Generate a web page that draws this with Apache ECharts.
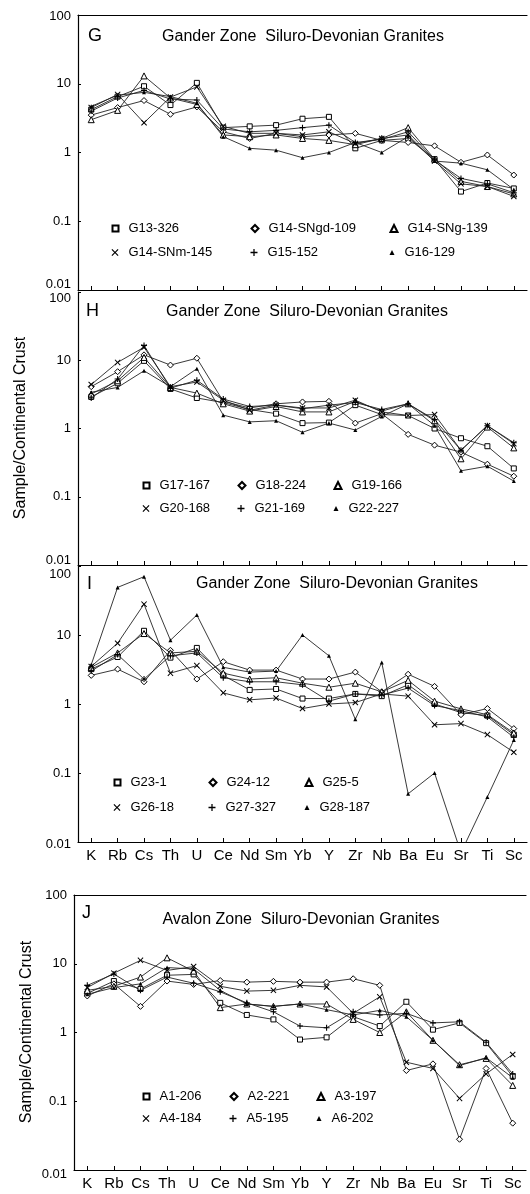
<!DOCTYPE html>
<html><head><meta charset="utf-8">
<script src="https://cdn.jsdelivr.net/npm/echarts@6/dist/echarts.min.js"></script>
<style>html,body{margin:0;padding:0;background:#fff}#c{width:530px;height:1194px}</style>
</head><body><div id="c"></div><script>
// ---------- DATA ----------
const elements = ['K','Rb','Cs','Th','U','Ce','Nd','Sm','Yb','Y','Zr','Nb','Ba','Eu','Sr','Ti','Sc'];
const yTickLabels = ['0.01','0.1','1','10','100'];

// Panel G
const gTitle = 'Gander Zone  Siluro-Devonian Granites';
const gNames = ['G13-326','G14-SNgd-109','G14-SNg-139','G14-SNm-145','G15-152','G16-129'];
const gG13_326     = [4.2, 6.5, 9.2, 4.9, 10.3, 2.3, 2.4, 2.5, 3.1, 3.3, 1.15, 1.5, 1.6, 0.8, 0.27, 0.36, 0.3];
const gG14_SNgd109 = [3.5, 4.5, 5.7, 3.6, 4.6, 2.0, 1.6, 1.9, 1.7, 1.8, 1.9, 1.5, 1.4, 1.25, 0.72, 0.92, 0.47];
const gG14_SNg139  = [3.0, 4.1, 13.0, 6.2, 5.0, 1.8, 1.7, 1.8, 1.6, 1.5, 1.3, 1.6, 2.3, 0.8, 0.38, 0.32, 0.25];
const gG14_SNm145  = [4.5, 7.0, 2.7, 6.4, 9.0, 2.4, 1.9, 1.9, 1.8, 2.0, 1.35, 1.6, 1.8, 0.75, 0.35, 0.32, 0.23];
const gG15_152     = [4.0, 6.2, 8.0, 6.0, 5.8, 2.2, 2.0, 2.1, 2.3, 2.5, 1.4, 1.55, 2.0, 0.78, 0.42, 0.35, 0.26];
const gG16_129     = [4.7, 6.8, 7.5, 6.5, 5.2, 1.7, 1.15, 1.08, 0.84, 1.0, 1.4, 1.0, 1.7, 0.75, 0.7, 0.56, 0.29];

// Panel H
const hTitle = 'Gander Zone  Siluro-Devonian Granites';
const hNames = ['G17-167','G18-224','G19-166','G20-168','G21-169','G22-227'];
const hG17_167 = [2.9, 4.6, 9.8, 3.8, 2.8, 2.4, 1.9, 1.65, 1.2, 1.22, 2.2, 1.6, 1.55, 1.0, 0.72, 0.55, 0.26];
const hG18_224 = [4.1, 6.8, 12.0, 8.5, 10.7, 2.5, 2.0, 2.3, 2.45, 2.5, 1.2, 1.65, 0.82, 0.57, 0.45, 0.3, 0.2];
const hG19_166 = [3.2, 5.0, 11.0, 4.0, 3.3, 2.3, 1.8, 2.1, 1.75, 1.75, 2.5, 1.8, 2.3, 1.3, 0.36, 1.05, 0.52];
const hG20_168 = [4.4, 9.3, 15.5, 4.1, 4.8, 2.6, 1.85, 2.2, 2.0, 2.0, 2.6, 1.75, 1.55, 1.6, 0.48, 1.1, 0.6];
const hG21_169 = [2.8, 5.3, 16.5, 3.9, 5.1, 2.7, 2.1, 2.2, 1.95, 2.2, 2.4, 1.9, 2.3, 1.35, 0.48, 1.1, 0.62];
const hG22_227 = [3.4, 4.0, 7.0, 4.1, 7.5, 1.57, 1.25, 1.3, 0.88, 1.2, 0.95, 1.5, 2.3, 1.1, 0.24, 0.28, 0.17];

// Panel I
const iTitle = 'Gander Zone  Siluro-Devonian Granites';
const iNames = ['G23-1','G24-12','G25-5','G26-18','G27-327','G28-187'];
const iG23_1   = [3.2, 4.8, 11.5, 4.7, 6.5, 2.6, 1.6, 1.65, 1.2, 1.2, 1.4, 1.3, 1.9, 1.0, 0.75, 0.68, 0.36];
const iG24_12  = [2.6, 3.2, 2.1, 6.0, 2.3, 4.1, 3.1, 3.1, 2.3, 2.3, 2.9, 1.5, 2.7, 1.8, 0.7, 0.86, 0.44];
const iG25_5   = [3.4, 5.5, 10.5, 5.5, 5.8, 2.8, 2.3, 2.4, 2.0, 1.75, 2.0, 1.5, 2.2, 1.1, 0.85, 0.7, 0.38];
const iG26_18  = [3.5, 7.6, 28, 2.8, 3.6, 1.45, 1.15, 1.22, 0.86, 1.0, 1.05, 1.4, 1.3, 0.5, 0.52, 0.36, 0.2];
const iG27_327 = [3.0, 5.2, 2.3, 5.0, 5.5, 2.4, 2.1, 2.1, 1.9, 1.1, 1.4, 1.35, 1.7, 0.95, 0.8, 0.65, 0.33];
const iG28_187 = [3.7, 49, 70, 8.4, 19.5, 3.4, 2.9, 3.0, 10, 5.0, 0.6, 4.0, 0.05, 0.1, 0.007, 0.045, 0.3];

// Panel J
const jTitle = 'Avalon Zone  Siluro-Devonian Granites';
const jNames = ['A1-206','A2-221','A3-197','A4-184','A5-195','A6-202'];
const jA1_206 = [3.7, 5.6, 4.3, 6.8, 7.0, 2.7, 1.8, 1.55, 0.79, 0.85, 1.7, 1.24, 2.8, 1.1, 1.38, 0.7, 0.23];
const jA2_221 = [3.4, 5.1, 2.4, 5.6, 5.0, 5.7, 5.4, 5.55, 5.4, 5.4, 6.05, 4.85, 0.28, 0.35, 0.028, 0.3, 0.048];
const jA3_197 = [4.1, 4.7, 6.4, 12.2, 7.8, 2.3, 2.6, 2.4, 2.6, 2.6, 1.55, 1.0, 2.0, 0.77, 0.34, 0.42, 0.17];
const jA4_184 = [4.5, 7.3, 11.2, 8.0, 9.1, 4.7, 4.0, 4.1, 4.85, 4.6, 1.9, 3.3, 0.37, 0.3, 0.11, 0.25, 0.48];
const jA5_195 = [4.85, 7.1, 4.1, 6.4, 5.2, 3.9, 2.7, 2.0, 1.24, 1.17, 2.0, 1.8, 1.9, 1.38, 1.43, 0.72, 0.25];
const jA6_202 = [3.6, 4.5, 5.1, 8.8, 8.4, 4.1, 2.6, 2.4, 2.6, 2.15, 1.8, 2.1, 1.7, 0.77, 0.33, 0.43, 0.22];

// ---------- STYLE / LAYOUT ----------
const FONT = 'Liberation Sans';
const PATH_X = 'path://M0,1.2 L1.2,0 L5,3.8 L8.8,0 L10,1.2 L6.2,5 L10,8.8 L8.8,10 L5,6.2 L1.2,10 L0,8.8 L3.8,5 Z';
const PATH_PLUS = 'path://M4.1,0 L5.9,0 L5.9,4.1 L10,4.1 L10,5.9 L5.9,5.9 L5.9,10 L4.1,10 L4.1,5.9 L0,5.9 L0,4.1 L4.1,4.1 Z';
const markers = [
  {symbol:'rect', size:5, hollow:true},
  {symbol:'diamond', size:6, hollow:true},
  {symbol:'triangle', size:6, hollow:true},
  {symbol:PATH_X, size:6, hollow:false},
  {symbol:PATH_PLUS, size:6, hollow:false},
  {symbol:'triangle', size:4, hollow:false}
];

// loShift: px to move the "0.01" label up; hiShift: px to move the "100" label down
const panels = [
  {names:gNames, data:[gG13_326,gG14_SNgd109,gG14_SNg139,gG14_SNm145,gG15_152,gG16_129], title:gTitle, letter:'G',
   grid:{left:78, top:15, width:449, height:275}, labels:false, topFrame:true, loShift:6, hiShift:1,
   titlePos:[303,37], letterPos:[88,36], legCols:[115,254,393], legRows:[229,253], yName:null},
  {names:hNames, data:[hG17_167,hG18_224,hG19_166,hG20_168,hG21_169,hG22_227], title:hTitle, letter:'H',
   grid:{left:78, top:292, width:449, height:273}, labels:false, topFrame:false, loShift:5, hiShift:6,
   titlePos:[307,312], letterPos:[86,311], legCols:[146,241,337], legRows:[486,509], yName:[21,428]},
  {names:iNames, data:[iG23_1,iG24_12,iG25_5,iG26_18,iG27_327,iG28_187], title:iTitle, letter:'I',
   grid:{left:78, top:566, width:449, height:276}, labels:true, topFrame:false, loShift:-2, hiShift:8,
   titlePos:[337,584], letterPos:[87,584], legCols:[117,212,308], legRows:[783,808], yName:null},
  {names:jNames, data:[jA1_206,jA2_221,jA3_197,jA4_184,jA5_195,jA6_202], title:jTitle, letter:'J',
   grid:{left:74, top:895, width:452, height:275}, labels:true, topFrame:true, loShift:-4, hiShift:0,
   titlePos:[301,920], letterPos:[82,913], legCols:[146,233,320], legRows:[1097,1119], yName:[27,1032]}
];

const option = {
  animation:false,
  backgroundColor:'#fff',
  textStyle:{fontFamily:FONT, color:'#000'},
  grid:[], xAxis:[], yAxis:[], series:[], legend:[], graphic:[]
};

function fmt(v){ return v >= 1 ? Math.round(v).toString() : Number(v.toPrecision(1)).toString(); }
function pad(shift){
  // positive shift moves text up, negative moves down
  return shift >= 0 ? [0,0,2*shift,0] : [-2*shift,0,0,0];
}

let xi = 0;
panels.forEach((p, pi) => {
  option.grid.push(Object.assign({show:false}, p.grid));
  const bottomIndex = xi;
  option.xAxis.push({
    type:'category', data:elements, gridIndex:pi, position:'bottom', boundaryGap:true,
    axisLine:{lineStyle:{color:'#000', width:1.2}},
    axisTick:{show:true, inside:true, length:4, alignWithLabel:true, lineStyle:{color:'#000'}},
    axisLabel:{show:p.labels, color:'#000', fontSize:15, fontFamily:FONT, margin:6, interval:0},
    splitLine:{show:false}
  });
  xi++;
  if (p.topFrame) {
    option.xAxis.push({
      type:'category', data:elements, gridIndex:pi, position:'top', boundaryGap:true,
      axisLine:{lineStyle:{color:'#000', width:1.2}}, axisTick:{show:false}, axisLabel:{show:false}, splitLine:{show:false}
    });
    xi++;
  }
  option.yAxis.push({
    type:'log', logBase:10, min:0.01, max:100, gridIndex:pi,
    axisLine:{show:true, lineStyle:{color:'#000', width:1.2}},
    axisTick:{show:true, inside:true, length:3, lineStyle:{color:'#000'}},
    minorTick:{show:false},
    axisLabel:{color:'#000', fontSize:13, fontFamily:FONT, margin:7,
      formatter:function(v){
        const s = fmt(v);
        if (v < 0.05) return '{lo|' + s + '}';
        if (v > 50) return '{hi|' + s + '}';
        return s;
      },
      rich:{
        lo:{fontSize:13, fontFamily:FONT, color:'#000', padding:pad(p.loShift)},
        hi:{fontSize:13, fontFamily:FONT, color:'#000', padding:pad(-p.hiShift)}
      }
    },
    splitLine:{show:false}
  });
  p.names.forEach((nm, si) => {
    const m = markers[si];
    option.series.push({
      name:nm, type:'line', xAxisIndex:bottomIndex, yAxisIndex:pi, data:p.data[si],
      symbol:m.symbol, symbolSize:m.size, showSymbol:true, clip:true,
      lineStyle:{color:'#222', width:0.9},
      itemStyle: m.hollow ? {color:'#fff', borderColor:'#000', borderWidth:1} : {color:'#000', borderWidth:0},
      emphasis:{disabled:true}
    });
    const col = si % 3, row = Math.floor(si / 3);
    const cx = p.legCols[col], cy = p.legRows[row];
    option.legend.push({
      data:[{name:nm, icon:m.symbol}], left:cx - 3.5, top:cy - 7, padding:0,
      itemWidth: m.size + 1, itemHeight: m.size + 1, selectedMode:false,
      textStyle:{fontSize:13, fontFamily:FONT, color:'#000', padding:[0,0,0,5]}
    });
  });
  option.graphic.push({type:'text', x:p.titlePos[0], y:p.titlePos[1],
    style:{text:p.title, font:'16px "'+FONT+'"', fill:'#000', textAlign:'center', textVerticalAlign:'middle'}});
  option.graphic.push({type:'text', x:p.letterPos[0], y:p.letterPos[1],
    style:{text:p.letter, font:'18px "'+FONT+'"', fill:'#000', textAlign:'left', textVerticalAlign:'middle'}});
  if (p.yName) {
    option.graphic.push({type:'text', x:p.yName[0], y:p.yName[1], rotation:Math.PI/2,
      style:{text:'Sample/Continental Crust', font:'16px "'+FONT+'"', fill:'#000', textAlign:'center', textVerticalAlign:'middle'}});
  }
});

const chart = echarts.init(document.getElementById('c'), null, {renderer:'canvas'});
chart.setOption(option);
</script></body></html>
